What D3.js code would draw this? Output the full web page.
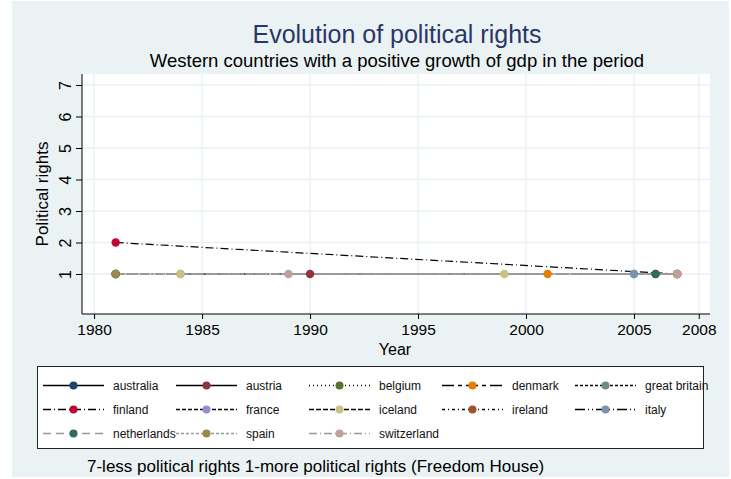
<!DOCTYPE html>
<html>
<head>
<meta charset="utf-8">
<script src="https://cdn.jsdelivr.net/npm/d3@7"></script>
<style>
  body { margin: 0; background: #fff; }
  text { font-family: "Liberation Sans", Arial, sans-serif; }
</style>
</head>
<body>
<div id="chart"></div>
<script>
// country names, in legend order
const countries = ["australia", "austria", "belgium", "denmark", "great britain",
  "finland", "france", "iceland", "ireland", "italy",
  "netherlands", "spain", "switzerland"];

// years with an observation, per country
const years = [
  [1981], [1990], [1981, 2007], [2001], [2005],
  [1981, 2007], [1984], [1984, 1999], [2006], [2005],
  [1981, 2006], [1981, 2007], [1989, 2007]
];
// political rights score at those years
const rights = [
  [1], [1], [1, 1], [1], [1],
  [2, 1], [1], [1, 1], [1], [1],
  [1, 1], [1, 1], [1, 1]
];

const xTicks = [1980, 1985, 1990, 1995, 2000, 2005, 2008];
const yTicks = [1, 2, 3, 4, 5, 6, 7];

// Stata s2color style markers and line patterns
const markerColors = ["#1a476f", "#90353b", "#55752f", "#e37e00", "#6e8e84",
  "#c10534", "#938dd2", "#cac27e", "#a0522d", "#7b92a8",
  "#2d6d66", "#9c8847", "#bfa19c"];
const lineColors = ["#000", "#000", "#000", "#000", "#000",
  "#000", "#000", "#000", "#000", "#000",
  "#999", "#999", "#999"];
const dashes = [null, null, "1,3", "12,4,4,4", "3,2",
  "8,3,1,3", "4,2", "5,2", "3,3,1,3", "10,3,1,3,1,3",
  "8,5", "3,2", "8,3,1,3"];

const W = 731, H = 479;
const svg = d3.select("#chart").append("svg")
  .attr("width", W).attr("height", H);

svg.append("rect").attr("x", 12).attr("y", 1)
  .attr("width", 717).attr("height", 476).attr("fill", "#eaf2f3");

const plot = { left: 82, right: 710, top: 74, bottom: 314 };

svg.append("rect").attr("x", plot.left).attr("y", plot.top)
  .attr("width", plot.right - plot.left).attr("height", plot.bottom - plot.top)
  .attr("fill", "#fff");

const x = d3.scaleLinear().domain([1979.44, 2008.52]).range([plot.left, plot.right]);
const y = d3.scaleLinear().domain([-0.27, 7.35]).range([plot.bottom, plot.top]);

// grid
svg.append("g").selectAll("line").data(xTicks).join("line")
  .attr("x1", d => x(d)).attr("x2", d => x(d))
  .attr("y1", plot.top).attr("y2", plot.bottom)
  .attr("stroke", "#eaf2f3").attr("stroke-width", 1.5);
svg.append("g").selectAll("line").data(yTicks).join("line")
  .attr("x1", plot.left).attr("x2", plot.right)
  .attr("y1", d => y(d)).attr("y2", d => y(d))
  .attr("stroke", "#eaf2f3").attr("stroke-width", 1.5);

// axes
const xAxis = svg.append("g").attr("transform", `translate(0,${plot.bottom})`)
  .call(d3.axisBottom(x).tickValues(xTicks).tickFormat(d3.format("d")).tickSize(5).tickSizeOuter(0));
xAxis.select(".domain").attr("d", `M${plot.left},0H${plot.right}`);
xAxis.selectAll("text").attr("font-size", 15.5).attr("fill", "#000").attr("dy", "0.85em")
  .style("font-family", "Liberation Sans, Arial, sans-serif");

const yAxis = svg.append("g").attr("transform", `translate(${plot.left},0)`)
  .call(d3.axisLeft(y).tickValues(yTicks).tickSize(6).tickSizeOuter(0));
yAxis.select(".domain").attr("d", `M0,${plot.top}V${plot.bottom}`);
yAxis.selectAll(".tick text")
  .attr("x", null).attr("dy", null)
  .attr("transform", "translate(-17,0) rotate(-90)")
  .attr("text-anchor", "middle")
  .attr("dominant-baseline", "central")
  .attr("font-size", 16).attr("fill", "#000")
  .style("font-family", "Liberation Sans, Arial, sans-serif");

// titles
svg.append("text").attr("x", 397).attr("y", 43).attr("text-anchor", "middle")
  .attr("font-size", 25).attr("fill", "#2a3766").text("Evolution of political rights");
svg.append("text").attr("x", 397).attr("y", 67).attr("text-anchor", "middle")
  .attr("font-size", 18.5).attr("fill", "#000")
  .text("Western countries with a positive growth of gdp in the period");
svg.append("text").attr("transform", "translate(48,194) rotate(-90)")
  .attr("text-anchor", "middle").attr("font-size", 17).text("Political rights");
svg.append("text").attr("x", 395).attr("y", 355).attr("text-anchor", "middle")
  .attr("font-size", 16).text("Year");

// series
const series = countries.map((c, i) => ({
  name: c,
  pts: years[i].map((yr, j) => ({ year: yr, value: rights[i][j] }))
}));

const line = d3.line().x(d => x(d.year)).y(d => y(d.value));

const g = svg.append("g");
series.forEach((s, i) => {
  g.append("path").datum(s.pts).attr("d", line)
    .attr("fill", "none").attr("stroke", lineColors[i])
    .attr("stroke-width", lineColors[i] === "#000" ? 1.2 : 1.8)
    .attr("stroke-dasharray", dashes[i]);
});
series.forEach((s, i) => {
  g.selectAll(null).data(s.pts).join("circle")
    .attr("cx", d => x(d.year)).attr("cy", d => y(d.value)).attr("r", 4.2)
    .attr("fill", markerColors[i]);
});

// legend
const lg = svg.append("g");
lg.append("rect").attr("x", 37.5).attr("y", 366.5).attr("width", 666).attr("height", 82)
  .attr("fill", "#fff").attr("stroke", "#222").attr("stroke-width", 1);

const colX = d3.scaleLinear().domain([0, 4]).range([43, 575]);
const rowY = d3.scaleLinear().domain([0, 2]).range([385.5, 433.5]);

countries.forEach((c, i) => {
  const cx = colX(i % 5), cy = rowY(Math.floor(i / 5));
  lg.append("line").attr("x1", cx).attr("x2", cx + 61).attr("y1", cy).attr("y2", cy)
    .attr("stroke", lineColors[i]).attr("stroke-width", 1.4)
    .attr("stroke-dasharray", dashes[i]);
  lg.append("circle").attr("cx", cx + 30.5).attr("cy", cy).attr("r", 4)
    .attr("fill", markerColors[i]);
  lg.append("text").attr("x", cx + 70).attr("y", cy).attr("dominant-baseline", "central")
    .attr("font-size", 12).attr("fill", "#111").text(c);
});

svg.append("text").attr("x", 87).attr("y", 472)
  .attr("font-size", 17).attr("fill", "#000")
  .text("7-less political rights 1-more political rights (Freedom House)");
</script>
</body>
</html>
